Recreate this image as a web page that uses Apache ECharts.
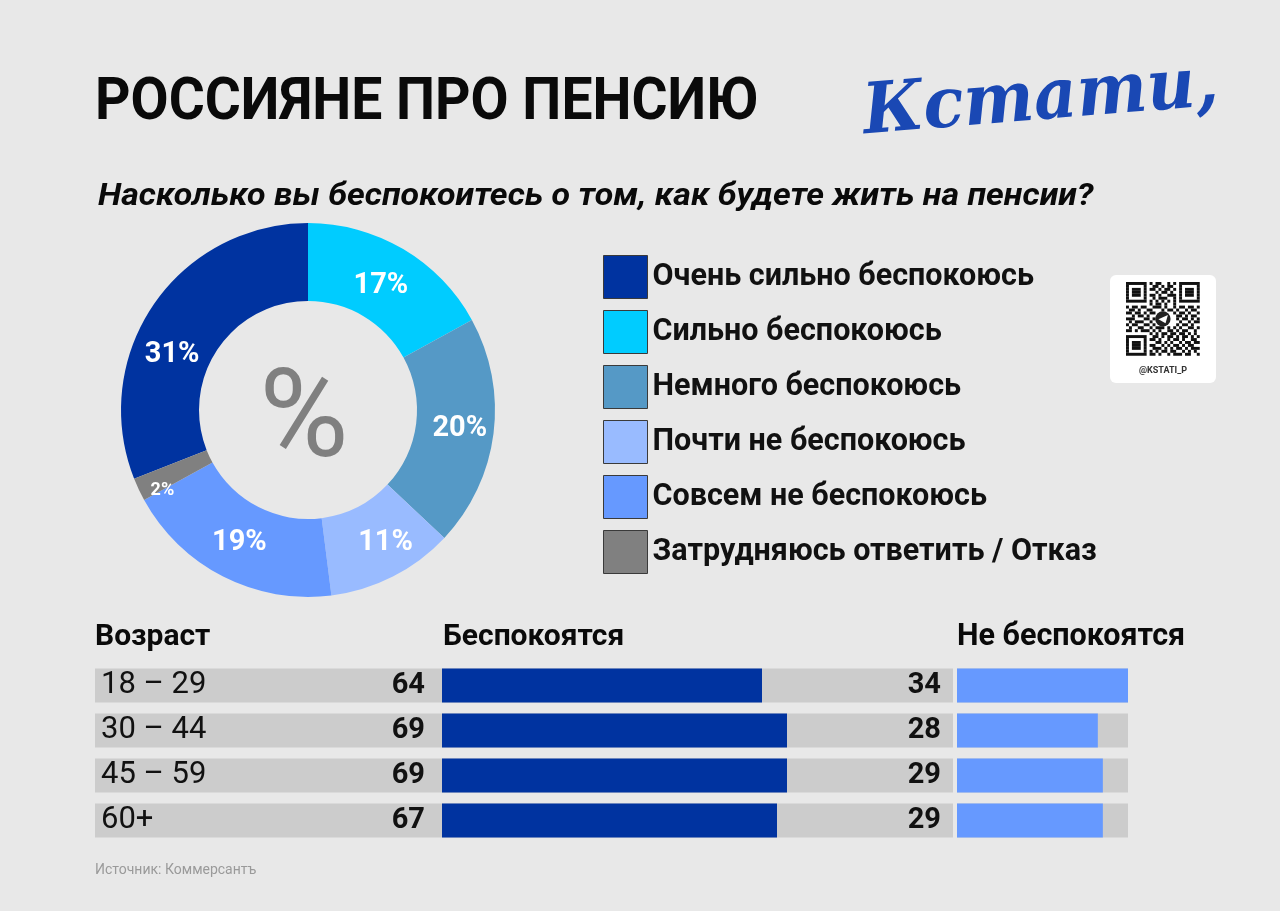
<!DOCTYPE html>
<html>
<head>
<meta charset="utf-8">
<script src="https://cdn.jsdelivr.net/npm/echarts@6/dist/echarts.min.js"></script>
<style>
html,body{margin:0;padding:0;background:#e8e8e8;}
#chart{width:1280px;height:911px;}
</style>
</head>
<body>
<div id="chart"></div>
<script>
// ---- DATA ----
const pieNames = ['Очень сильно беспокоюсь','Сильно беспокоюсь','Немного беспокоюсь','Почти не беспокоюсь','Совсем не беспокоюсь','Затрудняюсь ответить / Отказ'];
const pieValues = [31, 17, 20, 11, 19, 2];
const ageGroups = ['18 – 29', '30 – 44', '45 – 59', '60+'];
const worried = [64, 69, 69, 67];
const notWorried = [34, 28, 29, 29];

// ---- STYLE ----
const FONT = 'Roboto, "Noto Sans", sans-serif';
const pieColors = ['#0033a0', '#00ccff', '#5599c6', '#99bbff', '#6699ff', '#808080'];
// label nudges [dx, dy] per slice (visual only)
const labelNudge = [[-11, 30], [-4, 6], [2, 0], [9, -2], [0, -2], [-9, 16]];

const total = pieValues.reduce((a, b) => a + b, 0);
const startAngle = 90 + pieValues[0] / total * 360;

// QR pattern (decorative)
const qrRows = [
'1111111010110010101111111',
'1000001001101011001000001',
'1011101011010110101011101',
'1011101000101101001011101',
'1011101011010011101011101',
'1000001001011100101000001',
'1111111010101010101111111',
'0000000010110100100000000',
'1011011001110100101101101',
'0110100110001011010010110',
'1101101011000000101101001',
'0010110100000000011010110',
'1110001101000000010110101',
'0101110010000000001001011',
'1011001101000000010110100',
'0100110010111010101001101',
'1101011101010011010110010',
'0000000010101101101101010',
'1111111001101011010110101',
'1000001011010010110100110',
'1011101000110101001011011',
'1011101011001010110101100',
'1011101001110101011010111',
'1000001010101101100101010',
'1111111011010010111011001'
];
const qrX = 1126, qrY = 282, qrM = 2.95;
const qrChildren = [];
qrRows.forEach((row, r) => {
  let c = 0;
  while (c < row.length) {
    if (row[c] === '1') {
      let s = c;
      while (c < row.length && row[c] === '1') c++;
      qrChildren.push({type:'rect', shape:{x: qrX + s*qrM, y: qrY + r*qrM, width:(c-s)*qrM, height:qrM}, style:{fill:'#111'}});
    } else c++;
  }
});
qrChildren.push({type:'circle', shape:{cx: qrX + 12.5*qrM, cy: qrY + 12.5*qrM, r: 2.6*qrM}, style:{fill:'#222'}});
qrChildren.push({type:'polygon', shape:{points:[[qrX+11*qrM, qrY+12.6*qrM],[qrX+14.2*qrM, qrY+11.2*qrM],[qrX+13.4*qrM, qrY+14*qrM]]}, style:{fill:'#fff'}});

function pieLabel(i) {
  const dx = labelNudge[i][0], dy = labelNudge[i][1];
  const small = pieValues[i] < 5;
  const txt = '{v|' + pieValues[i] + '%}';
  const rich = {
    v: {fontSize: small ? 18 : 29, fontWeight: 'bold', color: '#fff', fontFamily: FONT},
    s: {height: Math.abs(2 * dy), fontSize: 1}
  };
  let formatter = txt;
  if (dy > 0) formatter = '{s|}\n' + txt;
  else if (dy < 0) formatter = txt + '\n{s|}';
  return {
    formatter: formatter,
    rich: rich,
    padding: [0, dx < 0 ? -2 * dx : 0, 0, dx > 0 ? 2 * dx : 0]
  };
}

const chart = echarts.init(document.getElementById('chart'), null, {renderer: 'canvas'});
const option = {
  backgroundColor: '#e8e8e8',
  animation: false,
  textStyle: {fontFamily: FONT},
  legend: {
    orient: 'vertical',
    left: 598,
    top: 250,
    itemWidth: 44,
    itemHeight: 43,
    itemGap: 11,
    icon: 'rect',
    selectedMode: false,
    data: pieNames,
    itemStyle: {borderColor: '#3a3a3a', borderWidth: 1},
    textStyle: {fontFamily: FONT, fontSize: 30.5, fontWeight: 'bold', color: '#111'}
  },
  grid: [
    {left: 95, top: 663, width: 858, height: 180},
    {left: 957, top: 663, width: 171, height: 180}
  ],
  xAxis: [
    {type: 'value', gridIndex: 0, min: -69.4, max: 102.2, show: false},
    {type: 'value', gridIndex: 1, min: 0, max: Math.max.apply(null, notWorried), show: false}
  ],
  yAxis: [
    {type: 'category', gridIndex: 0, data: ageGroups, inverse: true, z: 10,
     axisLine: {show: false, onZero: false}, axisTick: {show: false}, splitLine: {show: false},
     axisLabel: {inside: true, margin: 6, fontSize: 31, color: '#111', fontFamily: FONT, padding: [4, 0, 0, 0]}},
    {type: 'category', gridIndex: 1, data: ageGroups, inverse: true, show: false}
  ],
  series: [
    {
      type: 'pie',
      name: 'Ответы',
      center: [308, 410],
      radius: [109, 187],
      startAngle: startAngle,
      clockwise: true,
      silent: true,
      data: pieNames.map((n, i) => ({
        name: n, value: pieValues[i],
        itemStyle: {color: pieColors[i]},
        label: pieLabel(i)
      })),
      label: {show: true, position: 'inside', color: '#fff', fontWeight: 'bold', fontFamily: FONT, fontSize: 29},
      labelLine: {show: false}
    },
    {
      type: 'bar', name: 'Беспокоятся', xAxisIndex: 0, yAxisIndex: 0,
      data: worried, barWidth: 34, silent: true,
      itemStyle: {color: '#0033a0'},
      showBackground: true, backgroundStyle: {color: '#cccccc'},
      label: {show: true, position: 'left', distance: 17, fontSize: 29, fontWeight: 'bold', color: '#111', fontFamily: FONT}
    },
    {
      type: 'bar', name: 'Не беспокоятся', xAxisIndex: 1, yAxisIndex: 1,
      data: notWorried, barWidth: 34, silent: true,
      itemStyle: {color: '#6699ff'},
      showBackground: true, backgroundStyle: {color: '#cccccc'},
      label: {show: true, position: 'left', distance: 16, fontSize: 29, fontWeight: 'bold', color: '#111', fontFamily: FONT}
    }
  ],
  graphic: [
    {type: 'text', x: 95, y: 104, scaleX: 0.92, style: {text: 'РОССИЯНЕ ПРО ПЕНСИЮ', font: 'bold 60px ' + FONT, fill: '#0a0a0a', textVerticalAlign: 'middle'}},
    {type: 'text', x: 866, y: 150, rotation: 0.08, scaleX: 0.95, style: {text: 'Кстати,', font: 'italic bold 70px "DejaVu Serif", serif', fill: '#1a48b4', textVerticalAlign: 'bottom'}},
    {type: 'text', x: 98, y: 197, scaleX: 1.095, style: {text: 'Насколько вы беспокоитесь о том, как будете жить на пенсии?', font: 'italic bold 31px ' + FONT, fill: '#0a0a0a', textVerticalAlign: 'middle'}},
    {type: 'text', x: 304, y: 425, style: {text: '%', font: '122px ' + FONT, fill: '#808080', textAlign: 'center', textVerticalAlign: 'middle'}},
    {type: 'rect', shape: {x: 1110, y: 275, width: 106, height: 108, r: 6}, style: {fill: '#ffffff'}},
    {type: 'group', children: qrChildren},
    {type: 'text', x: 1163, y: 371, style: {text: '@KSTATI_P', font: 'bold 9px ' + FONT, fill: '#333', textAlign: 'center', textVerticalAlign: 'middle'}},
    {type: 'text', x: 95, y: 637, style: {text: 'Возраст', font: 'bold 30px ' + FONT, fill: '#0a0a0a', textVerticalAlign: 'middle'}},
    {type: 'text', x: 443, y: 637, style: {text: 'Беспокоятся', font: 'bold 30px ' + FONT, fill: '#0a0a0a', textVerticalAlign: 'middle'}},
    {type: 'text', x: 957, y: 637, style: {text: 'Не беспокоятся', font: 'bold 30.5px ' + FONT, fill: '#0a0a0a', textVerticalAlign: 'middle'}},
    {type: 'text', x: 95, y: 870, style: {text: 'Источник: Коммерсантъ', font: '14px ' + FONT, fill: '#9a9a9a', textVerticalAlign: 'middle'}}
  ]
};
chart.setOption(option);
</script>
</body>
</html>
